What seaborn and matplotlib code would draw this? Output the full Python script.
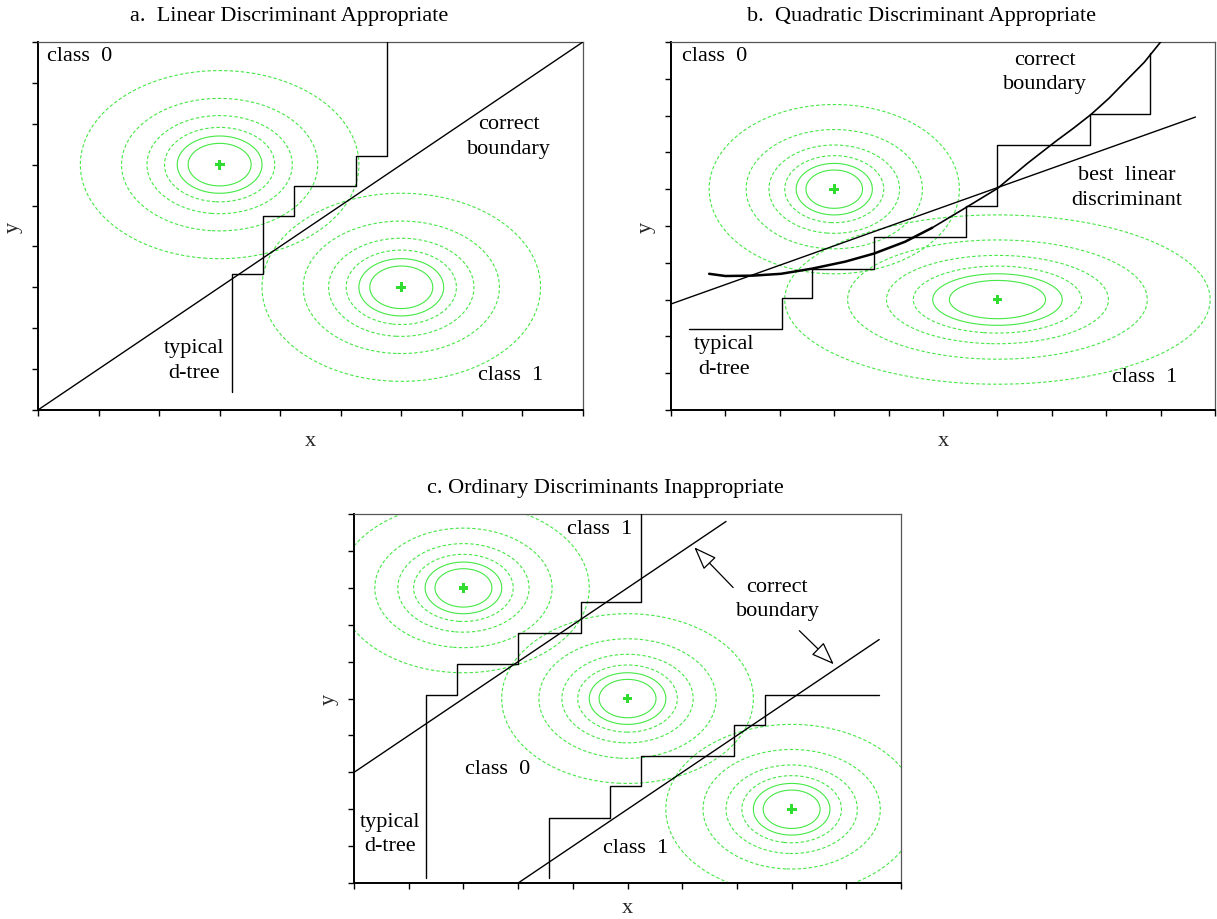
import numpy as np
import pandas as pd
import matplotlib
matplotlib.use("Agg")
import matplotlib.pyplot as plt
import seaborn as sns

# ---------------------------------------------------------------- data
# contour radii (in units of each class's spread), innermost first
contour_radii = [0.52, 0.70, 0.91, 1.20, 1.62, 2.30]
contour_styles = ["solid", "solid", "dashed", "dashed", "dashed", "dashed"]

# panel a: two round classes, diagonal boundary
a_centers_x = [3.0, 6.0]
a_centers_y = [6.0, 3.0]
a_spread_x = [1.0, 1.0]
a_spread_y = [1.0, 1.0]
a_boundary_x = [0.0, 9.0]
a_boundary_y = [0.0, 9.0]
a_tree_x = [3.20, 3.20, 3.71, 3.71, 4.22, 4.22, 5.25, 5.25, 5.76, 5.76]
a_tree_y = [0.43, 3.32, 3.32, 4.75, 4.75, 5.48, 5.48, 6.21, 6.21, 9.00]

# panel b: round class 0, wide class 1, curved boundary
b_centers_x = [3.0, 6.0]
b_centers_y = [6.0, 3.0]
b_spread_x = [1.0, 1.7]
b_spread_y = [1.0, 1.0]
b_linear_x = [0.0, 9.64]
b_linear_y = [2.88, 7.96]
b_curve_x = [0.70, 1.00, 1.50, 2.02, 2.59, 3.20, 3.73, 4.30, 4.80, 5.42,
             6.00, 6.55, 7.08, 7.40, 7.72, 8.05, 8.36, 8.70, 9.00]
b_curve_y = [3.70, 3.64, 3.65, 3.70, 3.84, 4.03, 4.25, 4.57, 4.95, 5.50,
             6.02, 6.70, 7.31, 7.66, 8.03, 8.47, 8.94, 9.45, 10.0]
b_tree_x = [0.33, 2.04, 2.04, 2.59, 2.59, 3.73, 3.73, 5.42, 5.42, 6.00,
            6.00, 7.70, 7.70, 8.81, 8.81]
b_tree_y = [2.20, 2.20, 3.05, 3.05, 3.84, 3.84, 4.70, 4.70, 5.54, 5.54,
            7.20, 7.20, 8.03, 8.03, 9.71]

# panel c: three classes along a diagonal, two parallel boundaries
c_centers_x = [2.0, 5.0, 8.0]
c_centers_y = [8.0, 5.0, 2.0]
c_spread_x = [1.0, 1.0, 1.0]
c_spread_y = [1.0, 1.0, 1.0]
c_upper_x = [0.0, 6.8]
c_upper_y = [3.0, 9.8]
c_lower_x = [3.0, 9.6]
c_lower_y = [0.0, 6.6]
c_tree1_x = [1.31, 1.31, 1.89, 1.89, 3.00, 3.00, 4.14, 4.14, 5.25, 5.25]
c_tree1_y = [0.14, 5.09, 5.09, 5.94, 5.94, 6.78, 6.78, 7.61, 7.61, 10.0]
c_tree2_x = [3.57, 3.57, 4.68, 4.68, 5.25, 5.25, 6.95, 6.95, 7.51, 7.51, 9.60]
c_tree2_y = [0.14, 1.76, 1.76, 2.62, 2.62, 3.45, 3.45, 4.27, 4.27, 5.09, 5.09]

# ---------------------------------------------------------------- style
sns.set_theme(style="ticks")
plt.rcParams["font.family"] = ["Liberation Serif", "DejaVu Serif"]

GREEN = "#45e845"
PLUS = "#30dc30"
FS = 16

fig = plt.figure(figsize=(12.17, 9.2), dpi=100)
ax_a = fig.add_axes([0.0312, 0.5533, 0.4478, 0.400])
ax_b = fig.add_axes([0.5514, 0.5533, 0.4470, 0.400])
ax_c = fig.add_axes([0.2909, 0.0391, 0.4495, 0.401])


def frame(ax, xmax, ymax, title, xpad=7):
    ax.set_xlim(0, xmax)
    ax.set_ylim(0, ymax)
    ax.set_xticks(range(0, xmax + 1))
    ax.set_yticks(range(0, ymax + 1))
    ax.set_xticklabels([])
    ax.set_yticklabels([])
    ax.tick_params(direction="out", length=4.5, width=1.0, color="black")
    for side in ("left", "bottom"):
        ax.spines[side].set_linewidth(1.4)
        ax.spines[side].set_color("black")
    for side in ("top", "right"):
        ax.spines[side].set_visible(True)
        ax.spines[side].set_linewidth(0.9)
        ax.spines[side].set_color("#555555")
    ax.set_xlabel("x", fontsize=FS, labelpad=xpad)
    ax.set_ylabel("y", fontsize=FS, labelpad=3)
    ax.set_title(title, fontsize=FS, pad=16, x=0.46, color="black")


def densities(ax, cx, cy, sx, sy, xmax, ymax):
    gx = np.linspace(0, xmax, 600)
    gy = np.linspace(0, ymax, 600)
    X, Y = np.meshgrid(gx, gy)
    dash = (0, (3.0, 2.0))
    styles = ["solid" if s == "solid" else dash for s in contour_styles]
    for x0, y0, s1, s2 in zip(cx, cy, sx, sy):
        R = np.sqrt(((X - x0) / s1) ** 2 + ((Y - y0) / s2) ** 2)
        cs = ax.contour(X, Y, R, levels=contour_radii, colors=GREEN,
                        linewidths=0.8)
        cs.set_linestyles(styles)
    pts = pd.DataFrame({"x": cx, "y": cy})
    sns.scatterplot(data=pts, x="x", y="y", ax=ax, marker="P", s=50,
                    color=PLUS, edgecolor="none", zorder=5, legend=False)


def line(ax, xs, ys, lw=1.0):
    df = pd.DataFrame({"x": xs, "y": ys})
    sns.lineplot(data=df, x="x", y="y", ax=ax, sort=False, estimator=None,
                 color="black", linewidth=lw, zorder=4)


def label(ax, x, y, s, ha="center"):
    ax.text(x, y, s, fontsize=FS, ha=ha, va="center", color="black",
            linespacing=1.38, zorder=6)


# ---------------------------------------------------------------- panel a
frame(ax_a, 9, 9, "a.  Linear Discriminant Appropriate")
densities(ax_a, a_centers_x, a_centers_y, a_spread_x, a_spread_y, 9, 9)
line(ax_a, a_boundary_x, a_boundary_y)
line(ax_a, a_tree_x, a_tree_y)
label(ax_a, 0.15, 8.66, "class  0", ha="left")
label(ax_a, 7.78, 6.70, "correct\nboundary")
label(ax_a, 2.58, 1.22, "typical\nd-tree")
label(ax_a, 7.80, 0.86, "class  1")

# ---------------------------------------------------------------- panel b
frame(ax_b, 10, 10, "b.  Quadratic Discriminant Appropriate")
densities(ax_b, b_centers_x, b_centers_y, b_spread_x, b_spread_y, 10, 10)
line(ax_b, b_linear_x, b_linear_y)
line(ax_b, b_curve_x[:9], b_curve_y[:9], lw=1.8)
line(ax_b, b_curve_x[8:], b_curve_y[8:], lw=1.2)
line(ax_b, b_tree_x, b_tree_y)
label(ax_b, 0.20, 9.62, "class  0", ha="left")
label(ax_b, 6.88, 9.19, "correct\nboundary")
label(ax_b, 8.37, 6.06, "best  linear\ndiscriminant")
label(ax_b, 0.97, 1.47, "typical\nd-tree")
label(ax_b, 8.70, 0.92, "class  1")

# ---------------------------------------------------------------- panel c
frame(ax_c, 10, 10, "c. Ordinary Discriminants Inappropriate", xpad=3)
densities(ax_c, c_centers_x, c_centers_y, c_spread_x, c_spread_y, 10, 10)
line(ax_c, c_upper_x, c_upper_y)
line(ax_c, c_lower_x, c_lower_y)
line(ax_c, c_tree1_x, c_tree1_y)
line(ax_c, c_tree2_x, c_tree2_y)
label(ax_c, 4.49, 9.62, "class  1")
label(ax_c, 7.74, 7.72, "correct\nboundary")
label(ax_c, 2.63, 3.10, "class  0")
label(ax_c, 0.66, 1.34, "typical\nd-tree")
label(ax_c, 5.14, 0.97, "class  1")
arrow = dict(arrowstyle="-|>,head_length=1.2,head_width=0.45",
             fc="white", ec="black", lw=0.9, shrinkA=0, shrinkB=0)
ax_c.annotate("", xy=(6.22, 9.10), xytext=(6.93, 8.01), arrowprops=arrow)
ax_c.annotate("", xy=(8.77, 5.93), xytext=(8.14, 6.84), arrowprops=arrow)

fig.savefig("out.png", dpi=100)
